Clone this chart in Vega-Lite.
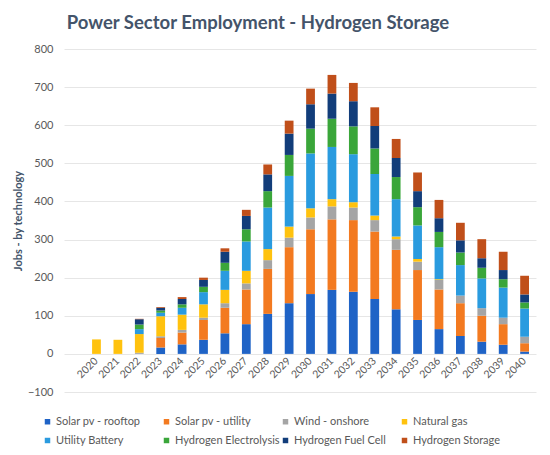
{
  "$schema": "https://vega.github.io/schema/vega-lite/v6.json",
  "width": 472,
  "height": 343,
  "autosize": "none",
  "padding": {"left": 64, "top": 49, "right": 14, "bottom": 63},
  "background": "white",
  "config": {"font": "Lato", "view": {"stroke": null}},
  "title": {
    "text": "Power Sector Employment - Hydrogen Storage",
    "anchor": "middle",
    "frame": "group",
    "dx": -42,
    "offset": 11,
    "fontSize": 18.5,
    "fontWeight": "bold",
    "color": "#44546A"
  },
  "datasets": {
    "techs": [
      {"tech": "Solar pv - rooftop", "rank": 1},
      {"tech": "Solar pv - utility", "rank": 2},
      {"tech": "Wind - onshore", "rank": 3},
      {"tech": "Natural gas", "rank": 4},
      {"tech": "Utility Battery", "rank": 5},
      {"tech": "Hydrogen Electrolysis", "rank": 6},
      {"tech": "Hydrogen Fuel Cell", "rank": 7},
      {"tech": "Hydrogen Storage", "rank": 8}
    ]
  },
  "data": {
    "values": [
      {"year": "2020", "Solar pv - rooftop": 0, "Solar pv - utility": 0, "Wind - onshore": 0, "Natural gas": 38, "Utility Battery": 0, "Hydrogen Electrolysis": 0, "Hydrogen Fuel Cell": 0, "Hydrogen Storage": 0},
      {"year": "2021", "Solar pv - rooftop": 0, "Solar pv - utility": 0, "Wind - onshore": 0, "Natural gas": 37, "Utility Battery": 0, "Hydrogen Electrolysis": 0, "Hydrogen Fuel Cell": 0, "Hydrogen Storage": 0},
      {"year": "2022", "Solar pv - rooftop": 0, "Solar pv - utility": 0, "Wind - onshore": 3, "Natural gas": 49, "Utility Battery": 13, "Hydrogen Electrolysis": 12, "Hydrogen Fuel Cell": 14, "Hydrogen Storage": 1},
      {"year": "2023", "Solar pv - rooftop": 17, "Solar pv - utility": 25, "Wind - onshore": 4, "Natural gas": 53, "Utility Battery": 9, "Hydrogen Electrolysis": 6, "Hydrogen Fuel Cell": 7, "Hydrogen Storage": 2},
      {"year": "2024", "Solar pv - rooftop": 25, "Solar pv - utility": 31, "Wind - onshore": 7, "Natural gas": 40, "Utility Battery": 18, "Hydrogen Electrolysis": 9, "Hydrogen Fuel Cell": 14, "Hydrogen Storage": 5},
      {"year": "2025", "Solar pv - rooftop": 37, "Solar pv - utility": 52, "Wind - onshore": 6, "Natural gas": 35, "Utility Battery": 32, "Hydrogen Electrolysis": 14, "Hydrogen Fuel Cell": 18, "Hydrogen Storage": 6},
      {"year": "2026", "Solar pv - rooftop": 54, "Solar pv - utility": 67, "Wind - onshore": 12, "Natural gas": 35, "Utility Battery": 50, "Hydrogen Electrolysis": 21, "Hydrogen Fuel Cell": 29, "Hydrogen Storage": 9},
      {"year": "2027", "Solar pv - rooftop": 78, "Solar pv - utility": 91, "Wind - onshore": 16, "Natural gas": 33, "Utility Battery": 77, "Hydrogen Electrolysis": 32, "Hydrogen Fuel Cell": 35, "Hydrogen Storage": 16},
      {"year": "2028", "Solar pv - rooftop": 105, "Solar pv - utility": 118, "Wind - onshore": 23, "Natural gas": 29, "Utility Battery": 109, "Hydrogen Electrolysis": 43, "Hydrogen Fuel Cell": 44, "Hydrogen Storage": 26},
      {"year": "2029", "Solar pv - rooftop": 133, "Solar pv - utility": 147, "Wind - onshore": 25, "Natural gas": 29, "Utility Battery": 133, "Hydrogen Electrolysis": 55, "Hydrogen Fuel Cell": 56, "Hydrogen Storage": 34},
      {"year": "2030", "Solar pv - rooftop": 157, "Solar pv - utility": 170, "Wind - onshore": 31, "Natural gas": 24, "Utility Battery": 144, "Hydrogen Electrolysis": 65, "Hydrogen Fuel Cell": 64, "Hydrogen Storage": 41},
      {"year": "2031", "Solar pv - rooftop": 168, "Solar pv - utility": 185, "Wind - onshore": 34, "Natural gas": 19, "Utility Battery": 137, "Hydrogen Electrolysis": 74, "Hydrogen Fuel Cell": 66, "Hydrogen Storage": 49},
      {"year": "2032", "Solar pv - rooftop": 163, "Solar pv - utility": 188, "Wind - onshore": 33, "Natural gas": 14, "Utility Battery": 126, "Hydrogen Electrolysis": 73, "Hydrogen Fuel Cell": 66, "Hydrogen Storage": 48},
      {"year": "2033", "Solar pv - rooftop": 144, "Solar pv - utility": 177, "Wind - onshore": 30, "Natural gas": 12, "Utility Battery": 109, "Hydrogen Electrolysis": 67, "Hydrogen Fuel Cell": 59, "Hydrogen Storage": 49},
      {"year": "2034", "Solar pv - rooftop": 117, "Solar pv - utility": 156, "Wind - onshore": 28, "Natural gas": 7, "Utility Battery": 98, "Hydrogen Electrolysis": 58, "Hydrogen Fuel Cell": 50, "Hydrogen Storage": 50},
      {"year": "2035", "Solar pv - rooftop": 89, "Solar pv - utility": 131, "Wind - onshore": 22, "Natural gas": 7, "Utility Battery": 88, "Hydrogen Electrolysis": 48, "Hydrogen Fuel Cell": 42, "Hydrogen Storage": 49},
      {"year": "2036", "Solar pv - rooftop": 65, "Solar pv - utility": 104, "Wind - onshore": 25, "Natural gas": 2, "Utility Battery": 84, "Hydrogen Electrolysis": 40, "Hydrogen Fuel Cell": 36, "Hydrogen Storage": 48},
      {"year": "2037", "Solar pv - rooftop": 47, "Solar pv - utility": 86, "Wind - onshore": 20, "Natural gas": 0, "Utility Battery": 80, "Hydrogen Electrolysis": 33, "Hydrogen Fuel Cell": 32, "Hydrogen Storage": 46},
      {"year": "2038", "Solar pv - rooftop": 32, "Solar pv - utility": 68, "Wind - onshore": 20, "Natural gas": 0, "Utility Battery": 78, "Hydrogen Electrolysis": 28, "Hydrogen Fuel Cell": 25, "Hydrogen Storage": 50},
      {"year": "2039", "Solar pv - rooftop": 24, "Solar pv - utility": 54, "Wind - onshore": 17, "Natural gas": 0, "Utility Battery": 79, "Hydrogen Electrolysis": 22, "Hydrogen Fuel Cell": 24, "Hydrogen Storage": 48},
      {"year": "2040", "Solar pv - rooftop": 6, "Solar pv - utility": 22, "Wind - onshore": 17, "Natural gas": 0, "Utility Battery": 74, "Hydrogen Electrolysis": 16, "Hydrogen Fuel Cell": 21, "Hydrogen Storage": 49}
    ]
  },
  "transform": [
    {"fold": ["Solar pv - rooftop", "Solar pv - utility", "Wind - onshore", "Natural gas", "Utility Battery", "Hydrogen Electrolysis", "Hydrogen Fuel Cell", "Hydrogen Storage"], "as": ["tech", "jobs"]},
    {"lookup": "tech", "from": {"data": {"name": "techs"}, "key": "tech", "fields": ["rank"]}}
  ],
  "mark": {"type": "bar"},
  "encoding": {
    "x": {
      "field": "year",
      "type": "ordinal",
      "scale": {"paddingInner": 0.59, "paddingOuter": 0.82, "align": 0.8},
      "axis": {
        "title": null,
        "offset": -38,
        "domain": false,
        "ticks": false,
        "labelAngle": -45,
        "labelAlign": "right",
        "labelBaseline": "middle",
        "labelPadding": 5,
        "labelFontSize": 10.5,
        "labelColor": "#595959"
      }
    },
    "y": {
      "field": "jobs",
      "type": "quantitative",
      "stack": "zero",
      "scale": {"domain": [-100, 800], "nice": false},
      "axis": {
        "values": [-100, 0, 100, 200, 300, 400, 500, 600, 700, 800],
        "title": "Jobs - by technology",
        "titleColor": "#44546A",
        "titleFontSize": 11,
        "titleFontWeight": "bold",
        "titleX": -41,
        "titleY": 171.5,
        "titleAlign": "center",
        "domain": false,
        "ticks": false,
        "labelPadding": 11,
        "labelFontSize": 11,
        "labelColor": "#595959",
        "gridColor": "#E6E6E6",
        "gridWidth": 1
      }
    },
    "order": {"field": "rank", "type": "quantitative", "sort": "ascending"},
    "color": {
      "field": "tech",
      "type": "nominal",
      "scale": {
        "domain": ["Solar pv - rooftop", "Solar pv - utility", "Wind - onshore", "Natural gas", "Utility Battery", "Hydrogen Electrolysis", "Hydrogen Fuel Cell", "Hydrogen Storage"],
        "range": ["#1F63C6", "#F37A20", "#A5A5A5", "#FFC20E", "#2A9BDF", "#3AA63A", "#123D7A", "#C04F1A"]
      },
      "legend": {
        "title": null,
        "orient": "none",
        "legendX": -22,
        "legendY": 367,
        "direction": "horizontal",
        "columns": 4,
        "gridAlign": "all",
        "columnPadding": -1,
        "rowPadding": 7,
        "symbolType": "square",
        "symbolSize": 30,
        "symbolStrokeWidth": 0,
        "labelFontSize": 11,
        "labelColor": "#595959",
        "labelOffset": 3,
        "labelLimit": 0
      }
    }
  }
}
